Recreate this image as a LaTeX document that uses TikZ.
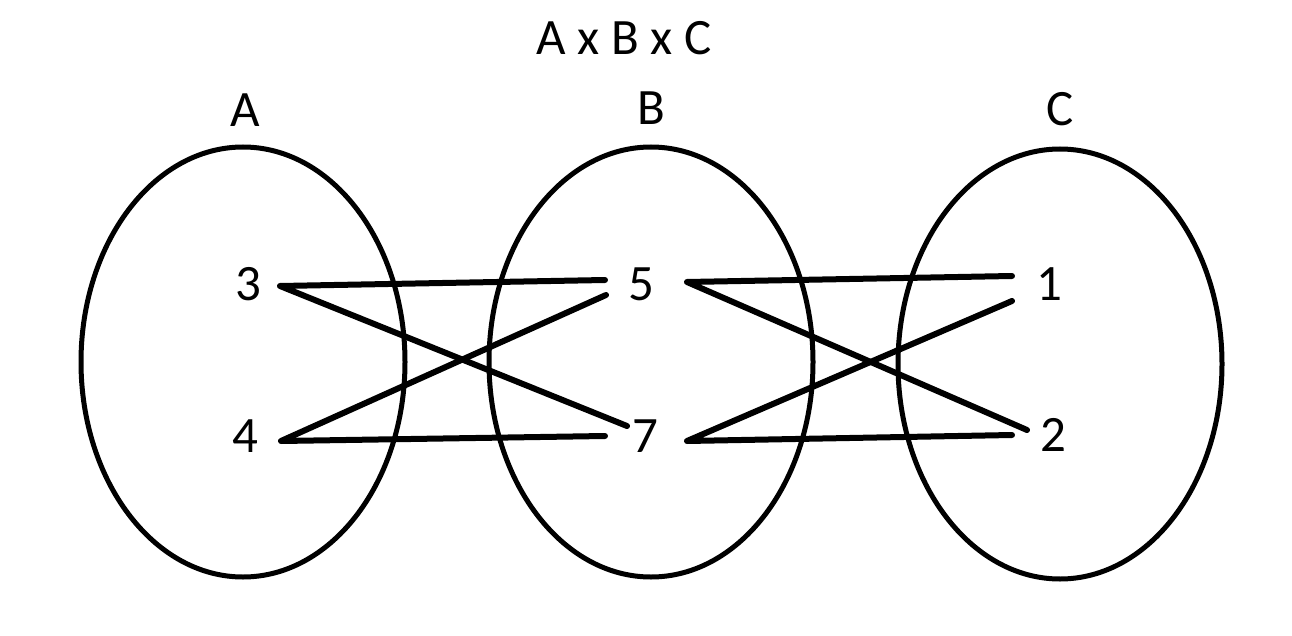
\documentclass[tikz,border=0pt]{standalone}
\usepackage{fontspec}
\setmainfont{Carlito}
\usetikzlibrary{shapes.geometric}
\begin{document}
\begin{tikzpicture}[x=1pt,y=-1pt,
  setshape/.style={draw, ellipse, line width=5pt, inner sep=0pt, minimum width=324pt, minimum height=430pt},
  lbl/.style={anchor=base, inner sep=0pt, font=\fontsize{51}{60}\selectfont},
  link/.style={line width=6pt, line cap=round, line join=round}]
\useasboundingbox (0,0) rectangle (1292,636);
\node[setshape] (EA) at (243,362) {};
\node[setshape] (EB) at (651,362) {};
\node[setshape] (EC) at (1060,364) {};
\node[lbl] (title) at (624,55) {A x B x C};
\node[lbl] (LA) at (245,127) {A};
\node[lbl] (LB) at (651,125) {B};
\node[lbl] (LC) at (1060,126) {C};
\node[lbl] (n3) at (248,300) {3};
\node[lbl] (n4) at (245,452) {4};
\node[lbl] (n5) at (641,300) {5};
\node[lbl] (n7) at (645,452) {7};
\node[lbl] (n1) at (1049,300) {1};
\node[lbl] (n2) at (1053,451) {2};
\draw[link] ([shift={(-36,-20)}]n5.base) -- ([shift={(32,-14)}]n3.base) -- ([shift={(-18,-26)}]n7.base);
\draw[link] ([shift={(-35,-5)}]n5.base) -- ([shift={(36,-11)}]n4.base) -- ([shift={(-40,-16)}]n7.base);
\draw[link] ([shift={(-37,-24)}]n1.base) -- ([shift={(46,-18)}]n5.base) -- ([shift={(-26,-21)}]n2.base);
\draw[link] ([shift={(-37,1)}]n1.base) -- ([shift={(42,-11)}]n7.base) -- ([shift={(-41,-16)}]n2.base);
\end{tikzpicture}
\end{document}
